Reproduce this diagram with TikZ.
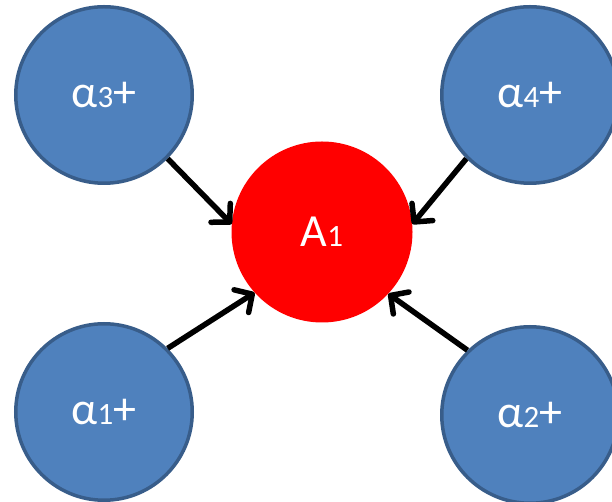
\documentclass[tikz,border=0pt]{standalone}
\usepackage{fontspec}
\setmainfont{Carlito}
\usetikzlibrary{arrows.meta}

\begin{document}
\begin{tikzpicture}[x=1pt,y=1pt,
  ion/.style={circle,fill=blueion,draw=blueedge,line width=3.5pt,minimum size=176.5pt,inner sep=0pt,text=white},
  centre/.style={circle,fill=red,minimum size=181pt,inner sep=0pt,text=white},
  pull/.style={line width=5.5pt,-{Straight Barb[length=13pt,width=27pt,line cap=round,line join=round]}}]
\definecolor{blueion}{HTML}{4F81BD}
\definecolor{blueedge}{HTML}{385D8A}
\useasboundingbox (0,0) rectangle (612,502);
\node[centre] (A1) at (322,270) {\fontsize{46}{48}\selectfont A{\fontsize{31}{32}\selectfont 1}};
\node[ion] (a3) at (104,407) {\fontsize{46}{48}\selectfont α{\fontsize{31}{32}\selectfont 3}+};
\node[ion] (a4) at (530,407) {\fontsize{46}{48}\selectfont α{\fontsize{31}{32}\selectfont 4}+};
\node[ion] (a1) at (104,90) {\fontsize{46}{48}\selectfont α{\fontsize{31}{32}\selectfont 1}+};
\node[ion] (a2) at (530,87) {\fontsize{46}{48}\selectfont α{\fontsize{31}{32}\selectfont 2}+};
\draw[pull] (a3.-45) -- (A1.175);
\draw[pull] (a4.225) -- (A1.5);
\draw[pull] (a1.45) -- (A1.222);
\draw[pull] (a2.134) -- (A1.-43);
\end{tikzpicture}
\end{document}
